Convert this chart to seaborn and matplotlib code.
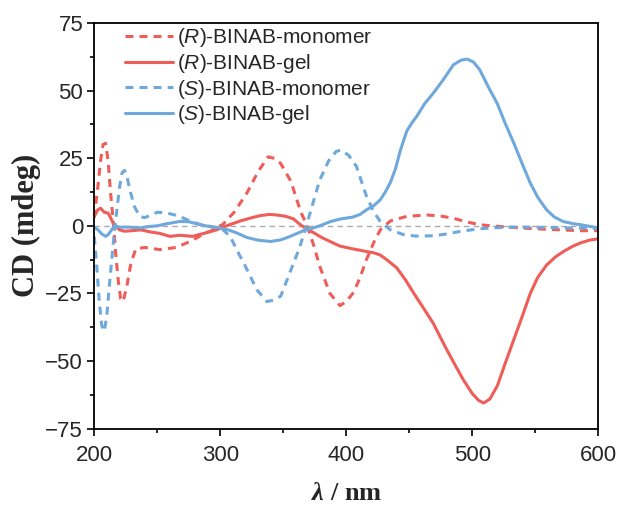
import matplotlib
matplotlib.use("Agg")
import matplotlib.pyplot as plt
import seaborn as sns
import pandas as pd

# wavelengths (nm) and CD (mdeg)
r_mono_x = [200, 203, 205, 207, 209, 211, 213, 215, 217, 219, 221, 223, 226, 229, 233, 240, 252, 265,
            276, 285, 292, 302, 311, 321, 330, 338, 344, 348, 356, 364, 369, 374, 379, 387, 395, 400,
            406, 411, 416, 422, 427, 435, 448, 464, 475, 485, 495, 506, 520, 538, 555, 570, 585, 600]
r_mono_y = [3, 15, 24, 30, 30.5, 24, 12, 2, -10, -20, -27, -28, -22, -14, -8.5, -8, -8.8, -8,
            -5.8, -3.5, -2, 0.5, 5, 12, 20, 25.5, 24.8, 23, 16.5, 5, 0, -7, -15, -25, -29.5, -28,
            -24.5, -19, -12.5, -6, -1.5, 1.8, 3.5, 4, 3.6, 2.8, 1.5, 0.4, -0.2, -0.8, -1.2, -1.5, -1.8, -1.8]

r_gel_x = [200, 203, 205, 208, 211, 213, 215, 217, 220, 224, 230, 237, 245, 252, 260, 268, 278, 287,
           297, 305, 316, 325, 332, 339, 345, 352, 358, 363, 368, 374, 380, 388, 395, 405, 416, 422,
           427, 432, 440, 447, 453, 460, 469, 475, 480, 487, 493, 500, 505, 509, 514, 520, 526, 533,
           540, 546, 552, 559, 566, 573, 580, 586, 593, 600]
r_gel_y = [3.5, 6, 6.5, 5, 4.7, 3, 1, 0, -1.5, -2, -1.8, -1.5, -2.3, -2.8, -3.9, -3.5, -3.9, -2.8,
           -1.5, 0, 1.8, 3, 3.8, 4.2, 4, 3.5, 2.6, 0.6, -1, -2.5, -4.2, -6, -7.5, -8.5, -9.5, -10,
           -10.8, -12.5, -15.5, -20, -24.5, -29.5, -36, -41.5, -46, -52, -57, -62, -64.5, -65.5, -64, -59, -51, -42,
           -33, -25, -19, -14.5, -11.5, -9.3, -7.5, -6.3, -5.3, -4.8]

s_mono_x = [200, 202, 204, 206, 208, 210, 212, 214, 216, 218, 220, 222, 224, 226, 229, 232, 236, 240,
            245, 250, 257, 264, 270, 276, 284, 292, 302, 308, 313, 320, 329, 337, 342, 348, 358, 363,
            368, 373, 379, 386, 392, 396, 402, 408, 416, 422, 427, 435, 445, 455, 469, 480, 490, 502,
            514, 530, 545, 560, 575, 590, 600]
s_mono_y = [-4, -15, -28, -37, -39, -33, -22, -12, -2, 6, 14, 19.5, 20.5, 18, 12, 7, 3.5, 3,
            4, 5, 4.8, 4, 3, 1.8, 0.5, -0.2, -1.4, -4, -8.8, -15, -23.6, -28, -27.5, -26, -14, -8,
            -0.5, 7.5, 17, 24, 27.5, 28, 26, 22, 11, 5, 1.6, -1.5, -3.2, -3.8, -3.7, -3, -2.1, -1.3,
            -0.8, -0.5, -0.5, -0.6, -0.8, -0.8, -1]

s_gel_x = [200, 203, 206, 209, 211, 213, 216, 220, 228, 236, 243, 250, 258, 268, 275, 284, 292, 300,
           307, 313, 321, 330, 340, 348, 355, 361, 366, 371, 379, 387, 395, 405, 411, 416, 422, 427,
           431, 435, 439, 443, 448, 452, 456, 462, 469, 477, 485, 491, 496, 501, 506, 512, 520, 526,
           533, 540, 546, 552, 559, 565, 572, 580, 586, 593, 600]
s_gel_y = [-0.5, -1.5, -3, -3.9, -3.3, -2, 0, -0.5, -0.5, -0.8, -0.3, 0, 0.8, 1.6, 1.5, 0.4, -0.3, -0.8,
           -1.6, -2.6, -4.3, -5.3, -5.8, -5.2, -4, -2.8, -1.8, -1.2, 0, 1.5, 2.5, 3.2, 4.2, 5.9, 7.5, 9.6,
           12.5, 16, 21, 28, 35, 38, 40.5, 45, 49, 54, 59.5, 61.2, 61.6, 60.5, 57.6, 52, 45, 38,
           30.5, 22.5, 15.8, 10.5, 5.9, 3.3, 1.6, 0.8, 0.4, -0.2, -0.8]

red = "#EF5D58"
blue = "#6FA8DA"

sns.set_theme(style="ticks")
plt.rcParams["font.family"] = ["Liberation Sans", "DejaVu Sans"]
plt.rcParams["mathtext.fontset"] = "custom"
plt.rcParams["mathtext.rm"] = "Liberation Sans"
plt.rcParams["mathtext.it"] = "Liberation Sans:italic"
plt.rcParams["mathtext.bfit"] = "Liberation Serif:italic:bold"

fig, ax = plt.subplots(figsize=(6.2, 5.08), dpi=100)
fig.subplots_adjust(left=0.152, right=0.965, top=0.955, bottom=0.156)

ax.axhline(0, color="#aaaaaa", ls=(0, (4, 3)), lw=1, zorder=1)

dash = (2.6, 2.0)
sns.lineplot(x=r_mono_x, y=r_mono_y, ax=ax, color=red, lw=2.2,
             label="($\\it{R}$)-BINAB-monomer").lines[-1].set_dashes(dash)
sns.lineplot(x=r_gel_x, y=r_gel_y, ax=ax, color=red, lw=2.2, label="($\\it{R}$)-BINAB-gel")
sns.lineplot(x=s_mono_x, y=s_mono_y, ax=ax, color=blue, lw=2.2,
             label="($\\it{S}$)-BINAB-monomer").lines[-1].set_dashes(dash)
sns.lineplot(x=s_gel_x, y=s_gel_y, ax=ax, color=blue, lw=2.2, label="($\\it{S}$)-BINAB-gel")

ax.set_xlim(200, 600)
ax.set_ylim(-75, 75)
ax.set_xticks([200, 300, 400, 500, 600])
ax.set_xticks([250, 350, 450, 550], minor=True)
ax.set_yticks([-75, -50, -25, 0, 25, 50, 75])
ax.set_yticks([-62.5, -37.5, -12.5, 12.5, 37.5, 62.5], minor=True)
ax.tick_params(which="major", direction="out", length=5, width=1.2, labelsize=16, color="black")
ax.tick_params(which="minor", direction="out", length=3, width=1.2, color="black")
ax.tick_params(axis="x", which="major", pad=7)
ax.tick_params(axis="y", which="major", pad=3)
for s in ax.spines.values():
    s.set_linewidth(1.3)
    s.set_color("black")

ax.set_ylabel("CD (mdeg)", family="Liberation Serif", fontweight="bold", fontsize=22, labelpad=3)
ax.set_xlabel("$\\mathbfit{\\lambda}$ / nm", family="Liberation Serif", fontweight="bold", fontsize=19, labelpad=11)

leg = ax.legend(loc="upper left", frameon=False, fontsize=15, handlelength=2.3, handletextpad=0.2,
                labelspacing=0.13, borderaxespad=0.0, bbox_to_anchor=(0.045, 1.012))

fig.savefig("out.png", dpi=100)
